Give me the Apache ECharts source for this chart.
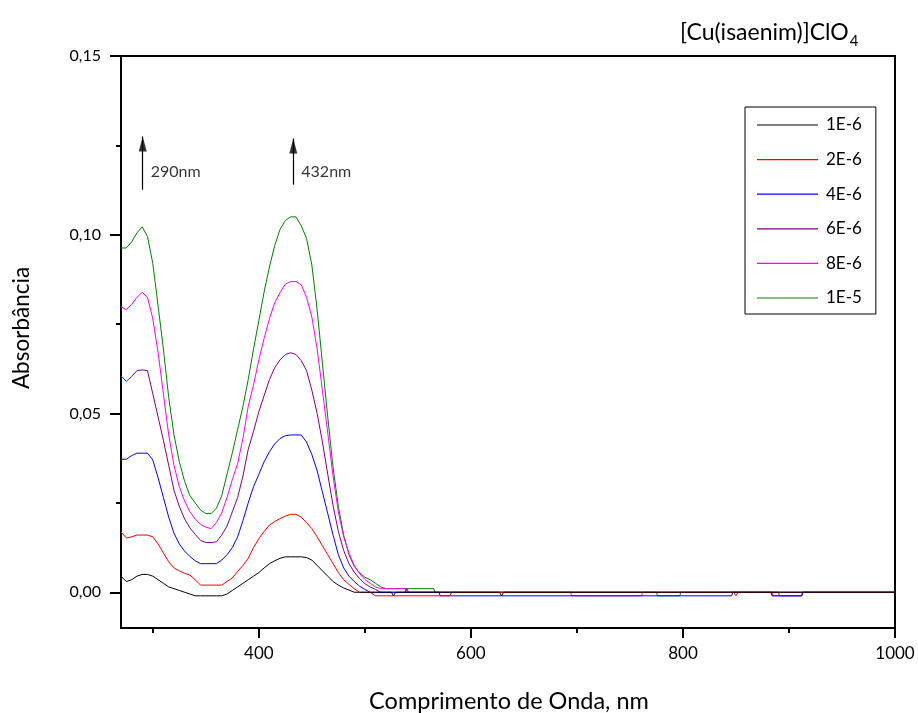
<!DOCTYPE html>
<html>
<head>
<meta charset="utf-8">
<script src="https://cdn.jsdelivr.net/npm/echarts@6/dist/echarts.min.js"></script>
<style>
html,body{margin:0;padding:0;background:#fff;}
#chart{width:918px;height:713px;}
</style>
</head>
<body>
<div id="chart"></div>
<script>
// Wavelength grid (nm) for the absorption region
const wavelength = [270,275,280,285,290,295,300,305,310,315,320,325,330,335,340,345,350,355,360,365,370,375,380,385,390,395,400,405,410,415,420,425,430,435,440,445,450,455,460,465,470,475,480,485,490,495,500,505,510,515,520];

const abs1E6 = [0.0045,0.003,0.0035,0.0045,0.005,0.005,0.0045,0.0035,0.0025,0.0015,0.001,0.0005,0.0,-0.0005,-0.001,-0.001,-0.001,-0.001,-0.001,-0.001,-0.0005,0.0005,0.0015,0.0025,0.0035,0.0045,0.0055,0.0068,0.008,0.0088,0.0095,0.0099,0.0099,0.0099,0.0099,0.0097,0.009,0.0075,0.006,0.0045,0.003,0.002,0.0012,0.0006,0,0,0,0,0,0,0];
const abs2E6 = [0.0169,0.0152,0.0155,0.016,0.016,0.016,0.0155,0.0135,0.011,0.0085,0.0068,0.006,0.0053,0.0048,0.0035,0.002,0.002,0.002,0.002,0.002,0.003,0.004,0.0058,0.0075,0.0095,0.0125,0.015,0.017,0.0188,0.0198,0.0206,0.0213,0.0218,0.0218,0.021,0.0195,0.0178,0.0155,0.013,0.0105,0.008,0.0055,0.0035,0.0022,0.001,0,0,0,-0.001,-0.001,-0.001];
const abs4E6 = [0.0372,0.0372,0.0382,0.0389,0.0389,0.0389,0.037,0.032,0.0265,0.021,0.0165,0.0135,0.0115,0.01,0.0088,0.008,0.008,0.008,0.008,0.009,0.0105,0.0125,0.0155,0.02,0.025,0.0295,0.033,0.0365,0.0393,0.0415,0.043,0.0438,0.044,0.044,0.044,0.042,0.0385,0.034,0.028,0.022,0.016,0.0105,0.0068,0.0045,0.003,0.0017,0.0008,0,0,0,0];
const abs6E6 = [0.0605,0.059,0.0603,0.062,0.0622,0.062,0.0555,0.049,0.0425,0.0355,0.0285,0.024,0.0205,0.018,0.0162,0.0145,0.0139,0.0139,0.0141,0.016,0.0185,0.0225,0.0265,0.0325,0.04,0.045,0.0505,0.055,0.0595,0.0628,0.065,0.0665,0.067,0.0665,0.0648,0.062,0.0565,0.05,0.042,0.033,0.0243,0.017,0.0117,0.008,0.0056,0.0038,0.0024,0.0015,0.0008,0,0];
const abs8E6 = [0.0799,0.079,0.0805,0.0825,0.0839,0.0825,0.0765,0.067,0.0555,0.044,0.0355,0.0295,0.0255,0.0225,0.0205,0.019,0.0182,0.0178,0.0195,0.0222,0.0265,0.0315,0.036,0.043,0.052,0.058,0.065,0.071,0.0765,0.081,0.0838,0.0862,0.0869,0.0869,0.086,0.0825,0.077,0.068,0.0565,0.0445,0.0325,0.0225,0.0155,0.011,0.0075,0.0052,0.0036,0.0025,0.0015,0.001,0.001];
const abs1E5 = [0.0963,0.0963,0.098,0.1005,0.1022,0.0995,0.092,0.080,0.068,0.0545,0.044,0.0365,0.031,0.027,0.025,0.023,0.022,0.022,0.0235,0.027,0.033,0.039,0.0455,0.052,0.0595,0.068,0.076,0.084,0.091,0.097,0.1015,0.104,0.105,0.105,0.1025,0.099,0.0915,0.079,0.064,0.049,0.035,0.024,0.016,0.0105,0.0072,0.0055,0.0042,0.0035,0.0025,0.0015,0.001];

// Baseline tails (nm, absorbance) beyond 520 nm
const tailWl1E6 = [525,527,529,627,629,631,1000];
const tailAbs1E6 = [0,-0.001,0,0,-0.001,0,0];
const tailWl2E6 = [580,582,848,850,852,1000];
const tailAbs2E6 = [-0.001,0,0,-0.001,0,0];
const tailWl4E6 = [570,571,846,847,883,884,912,913,1000];
const tailAbs4E6 = [0,-0.001,-0.001,0,0,-0.001,-0.001,0,0];
const tailWl6E6 = [538,539,540,1000];
const tailAbs6E6 = [0,0.001,0,0];
const tailWl8E6 = [540,541,694,695,761,762,884,885,912,913,1000];
const tailAbs8E6 = [0.001,0,0,-0.001,-0.001,0,0,-0.001,-0.001,0,0];
const tailWl1E5 = [565,566,775,776,797,798,890,891,912,913,1000];
const tailAbs1E5 = [0.001,0,0,-0.001,-0.001,0,0,-0.001,-0.001,0,0];

const seriesNames = ['1E-6','2E-6','4E-6','6E-6','8E-6','1E-5'];
const seriesColors = ['#000000','#ff0000','#0000ff','#800080','#ff00ff','#008000'];

const yTicks = [0, 0.05, 0.10, 0.15];
const yMinorTicks = [0.025, 0.075, 0.125];
const xTicks = [400, 600, 800, 1000];
const xMinorTicks = [300, 500, 700, 900];

// Peak annotations (arrow position nm, arrow base / tip absorbance, label)
const annotPos = [290.5, 432.5];
const annotBase = [0.1126, 0.114];
const annotTip = [0.1275, 0.1269];
const annotTextY = [0.1177, 0.1177];
const annotText = ['290nm', '432nm'];

const FONT = 'Lato';

function build(w, a, tw, ta) {
  return w.map((x, i) => [x, a[i]]).concat(tw.map((x, i) => [x, ta[i]]));
}
const allData = [
  build(wavelength, abs1E6, tailWl1E6, tailAbs1E6),
  build(wavelength, abs2E6, tailWl2E6, tailAbs2E6),
  build(wavelength, abs4E6, tailWl4E6, tailAbs4E6),
  build(wavelength, abs6E6, tailWl6E6, tailAbs6E6),
  build(wavelength, abs8E6, tailWl8E6, tailAbs8E6),
  build(wavelength, abs1E5, tailWl1E5, tailAbs1E5)
];

const series = [];
for (let i = seriesNames.length - 1; i >= 0; i--) {
  series.push({
    name: seriesNames[i],
    type: 'line',
    data: allData[i],
    symbol: 'none',
    showSymbol: false,
    lineStyle: { color: seriesColors[i], width: 1 },
    itemStyle: { color: seriesColors[i] },
    emphasis: { disabled: true },
    silent: true
  });
}
// arrow heads
series.push({
  name: 'arrowHead',
  type: 'scatter',
  data: annotPos.map((x, i) => [x, annotTip[i]]),
  symbol: 'triangle',
  symbolSize: [8, 15],
  symbolOffset: [0, 7.5],
  itemStyle: { color: '#000' },
  silent: true,
  markLine: {
    silent: true,
    symbol: ['none', 'none'],
    label: { show: false },
    lineStyle: { color: '#000', width: 1.2, type: 'solid' },
    emphasis: { disabled: true },
    data: annotPos.map((x, i) => [{ coord: [x, annotBase[i]] }, { coord: [x, annotTip[i]] }])
  }
});
// arrow labels
series.push({
  name: 'annotText',
  type: 'scatter',
  data: annotPos.map((x, i) => ({ value: [x, annotTextY[i]], name: annotText[i] })),
  symbolSize: 0,
  silent: true,
  label: {
    show: true, position: 'right', distance: 8,
    formatter: p => p.name,
    fontFamily: FONT, fontSize: 16, color: '#000'
  }
});

const chart = echarts.init(document.getElementById('chart'));
chart.setOption({
  animation: false,
  backgroundColor: '#fff',
  grid: { left: 121, right: 23, top: 56, bottom: 85, show: true, borderColor: '#000', borderWidth: 2, backgroundColor: 'transparent' },
  legend: {
    data: seriesNames,
    orient: 'vertical',
    left: 745, top: 107,
    borderColor: '#000', borderWidth: 1,
    padding: [8, 14, 6, 12],
    icon: 'rect',
    itemWidth: 61, itemHeight: 1.2, itemGap: 14.6,
    textStyle: { fontFamily: FONT, fontSize: 17, lineHeight: 20, color: '#000', padding: [0, 0, 0, 3] },
    backgroundColor: '#fff'
  },
  xAxis: [{
    type: 'value', min: 270, max: 1000, position: 'bottom',
    axisLine: { show: true, onZero: false, lineStyle: { color: '#000', width: 2 } },
    axisTick: { show: true, customValues: xTicks, length: 10, lineStyle: { color: '#000', width: 2 } },
    axisLabel: { customValues: xTicks, margin: 17, fontFamily: FONT, fontSize: 17, color: '#000', formatter: v => String(v) },
    splitLine: { show: false }
  }, {
    type: 'value', min: 270, max: 1000, position: 'bottom',
    axisLine: { show: false, onZero: false },
    axisTick: { show: true, customValues: xMinorTicks, length: 5, lineStyle: { color: '#000', width: 2 } },
    axisLabel: { show: false, customValues: xMinorTicks },
    splitLine: { show: false }
  }],
  yAxis: [{
    type: 'value', min: -0.01, max: 0.15, position: 'left',
    axisLine: { show: true, onZero: false, lineStyle: { color: '#000', width: 2 } },
    axisTick: { show: true, customValues: yTicks, length: 11, lineStyle: { color: '#000', width: 2 } },
    axisLabel: { customValues: yTicks, margin: 20, fontFamily: FONT, fontSize: 16, color: '#000',
      formatter: v => v.toFixed(2).replace('.', ',') },
    splitLine: { show: false }
  }, {
    type: 'value', min: -0.01, max: 0.15, position: 'left',
    axisLine: { show: false, onZero: false },
    axisTick: { show: true, customValues: yMinorTicks, length: 5, lineStyle: { color: '#000', width: 2 } },
    axisLabel: { show: false, customValues: yMinorTicks },
    splitLine: { show: false }
  }],
  graphic: [
    { type: 'text', x: 509, y: 701, style: { text: 'Comprimento de Onda, nm', fontFamily: FONT, fontSize: 23.5, fill: '#000', align: 'center', verticalAlign: 'middle' } },
    { type: 'text', x: 22, y: 328, rotation: Math.PI / 2, style: { text: 'Absorbância', fontFamily: FONT, fontSize: 22.5, fill: '#000', align: 'center', verticalAlign: 'middle' } },
    { type: 'text', x: 680, y: 33, style: {
        text: '{a|[Cu(isaenim)]ClO}{b|4}',
        verticalAlign: 'middle',
        rich: {
          a: { fontFamily: FONT, fontSize: 23, fill: '#000', color: '#000' },
          b: { fontFamily: FONT, fontSize: 15, fill: '#000', color: '#000', padding: [17, 0, 0, 1] }
        }
      } }
  ],
  series: series
});
</script>
</body>
</html>
